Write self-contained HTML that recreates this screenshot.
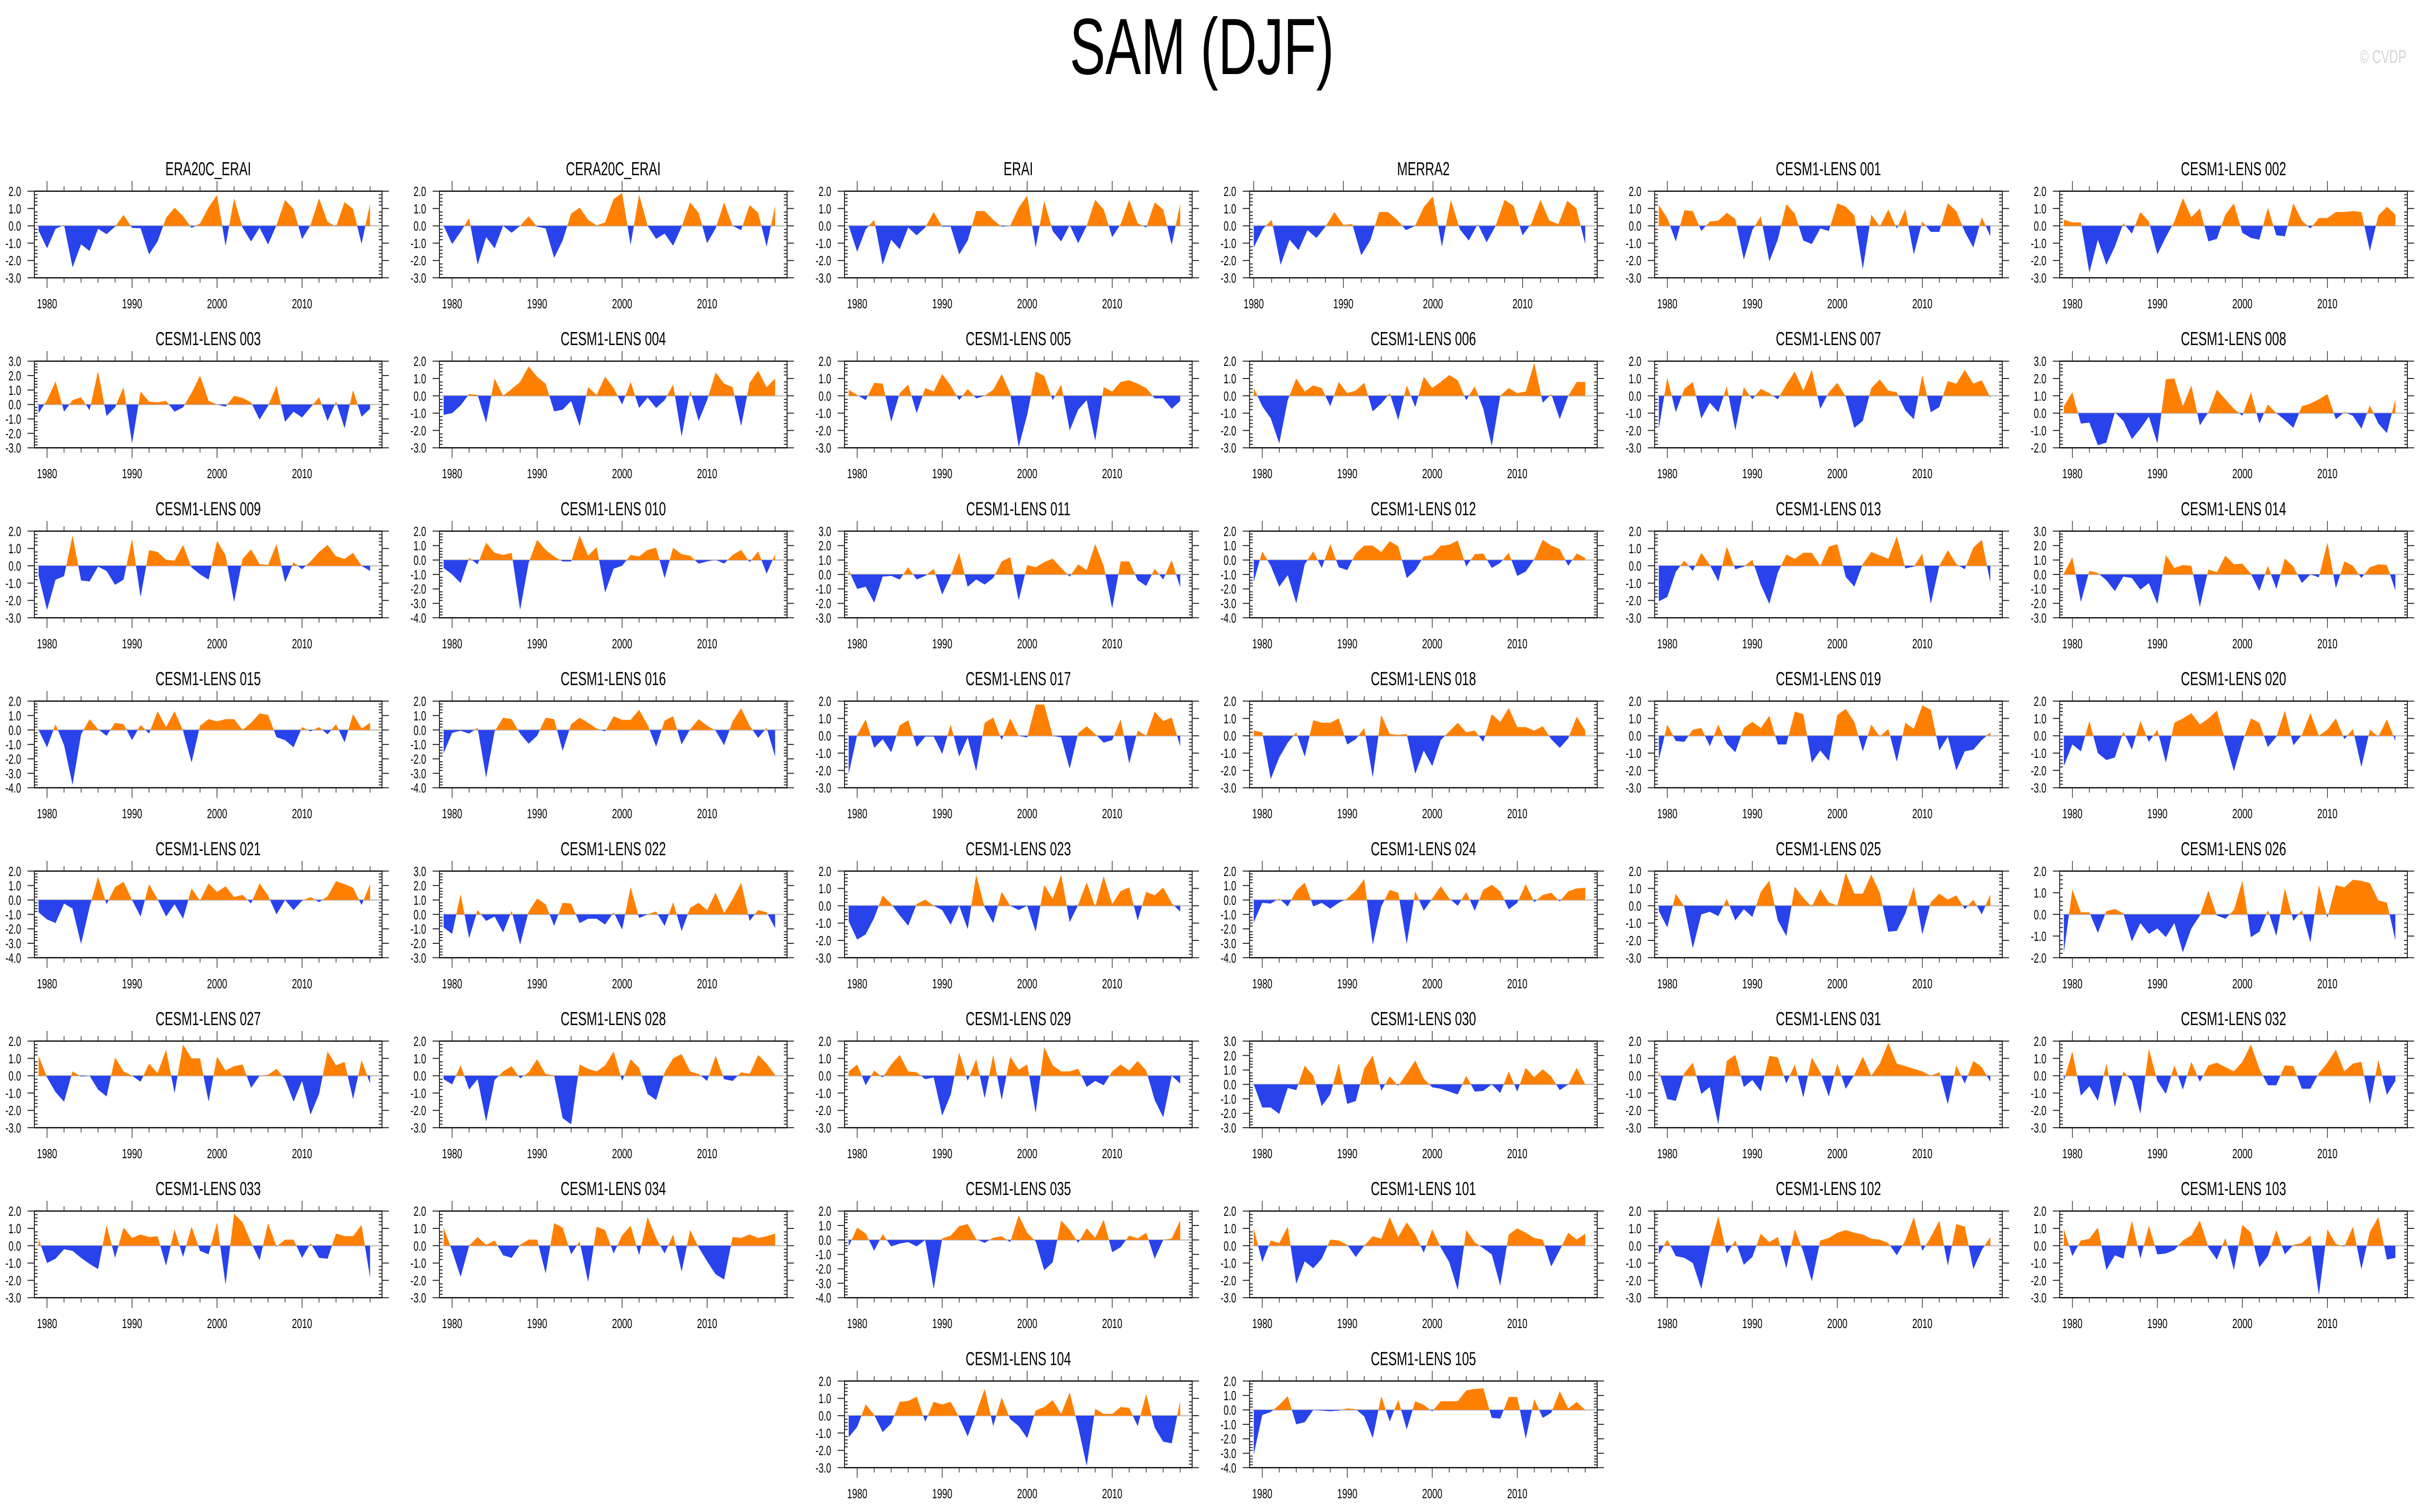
<!DOCTYPE html>
<html><head><meta charset="utf-8"><title>SAM (DJF)</title>
<meta name="viewport" content="width=7468, initial-scale=1">
<style>
html,body{margin:0;padding:0;background:#fff;overflow:hidden;width:100%;height:100%;}
svg{display:block;width:100vw;height:100vh;font-family:"Liberation Sans",Arial,sans-serif;}
</style></head>
<body>
<svg id="chart" xmlns="http://www.w3.org/2000/svg" viewBox="0 0 7468 3124" preserveAspectRatio="none">
<rect x="0" y="0" width="7468" height="3124" fill="#ffffff"/>
<text x="3709" y="153" font-size="165" text-anchor="middle" fill="#000">SAM (DJF)</text>
<text x="7426" y="130" font-size="38" text-anchor="end" fill="#d4d4d4">© CVDP</text>
</svg>
<script>
const titles = ["ERA20C_ERAI","CERA20C_ERAI","ERAI","MERRA2","CESM1-LENS 001","CESM1-LENS 002",
"CESM1-LENS 003","CESM1-LENS 004","CESM1-LENS 005","CESM1-LENS 006","CESM1-LENS 007","CESM1-LENS 008",
"CESM1-LENS 009","CESM1-LENS 010","CESM1-LENS 011","CESM1-LENS 012","CESM1-LENS 013","CESM1-LENS 014",
"CESM1-LENS 015","CESM1-LENS 016","CESM1-LENS 017","CESM1-LENS 018","CESM1-LENS 019","CESM1-LENS 020",
"CESM1-LENS 021","CESM1-LENS 022","CESM1-LENS 023","CESM1-LENS 024","CESM1-LENS 025","CESM1-LENS 026",
"CESM1-LENS 027","CESM1-LENS 028","CESM1-LENS 029","CESM1-LENS 030","CESM1-LENS 031","CESM1-LENS 032",
"CESM1-LENS 033","CESM1-LENS 034","CESM1-LENS 035","CESM1-LENS 101","CESM1-LENS 102","CESM1-LENS 103",
"CESM1-LENS 104","CESM1-LENS 105"];
const yMins = [-3,-3,-3,-3,-3,-3, -3,-3,-3,-3,-3,-2, -3,-4,-3,-4,-3,-3, -4,-4,-3,-3,-3,-3, -4,-3,-3,-4,-3,-2, -3,-3,-3,-3,-3,-3, -3,-3,-4,-3,-3,-3, -3,-4];
const yMaxs = [2,2,2,2,2,2, 3,2,2,2,2,3, 2,2,3,2,2,3, 2,2,2,2,2,2, 2,3,2,2,2,2, 2,2,2,3,2,2, 2,2,2,2,2,2, 2,2];
const startYears = [1979,1979,1979,1980,1979,1979, 1979,1979,1979,1979,1979,1979, 1979,1979,1979,1979,1979,1979, 1979,1979,1979,1979,1979,1979, 1979,1979,1979,1979,1979,1979, 1979,1979,1979,1979,1979,1979, 1979,1979,1979,1979,1979,1979, 1979,1979];
const xTickLabels = [1980,1990,2000,2010];

const v_era20c = [-0.28,-1.3,-0.17,0.05,-2.4,-1.07,-1.45,-0.17,-0.48,-0.05,0.63,-0.12,-0.14,-1.65,-0.9,0.46,1.05,0.56,-0.12,0.14,1.07,1.78,-1.16,1.58,-0.11,-0.9,-0.11,-1.08,0.05,1.49,0.97,-0.77,0.05,1.58,0.23,-0.05,1.37,0.97,-1.04,1.28];
const v_cera20c = [0,-1.05,-0.35,0.45,-2.25,-0.65,-1.3,0,-0.4,0,0.55,-0.05,-0.15,-1.85,-0.85,0.7,1.05,0.35,0.02,0.2,1.55,1.9,-1.1,1.8,0,-0.75,-0.45,-1.15,-0.05,1.35,0.75,-1.0,-0.15,1.35,0,-0.25,1.2,0.75,-1.2,1.15];
const v_erai = [0,-1.5,-0.2,0.35,-2.25,-0.8,-1.35,-0.1,-0.55,-0.1,0.8,-0.05,-0.05,-1.65,-0.85,0.85,0.85,0.35,-0.05,0,1.05,1.75,-1.25,1.45,-0.3,-0.9,0.05,-1.0,0,1.5,0.95,-0.65,0.1,1.5,0.15,-0.1,1.35,0.95,-1.1,1.25];
const v_merra2 = [-1.25,-0.2,0.35,-2.25,-0.8,-1.4,-0.25,-0.7,-0.05,0.8,0.05,0.1,-1.7,-0.85,0.8,0.8,0.35,-0.25,0,1.1,1.7,-1.2,1.5,-0.2,-0.85,0.1,-0.95,0,1.5,1.15,-0.55,0.15,1.5,0.3,0.1,1.45,1.0,-1.05];
const v_001 = [1.2,0.45,-0.9,0.9,0.85,-0.3,0.25,0.3,0.75,0.4,-1.95,-0.25,0.55,-2.05,-0.8,1.25,0.7,-0.85,-1.05,-0.15,-0.3,1.3,1.1,0.6,-2.5,0.65,-0.05,0.95,-0.15,0.95,-1.65,0.25,-0.35,-0.35,1.3,0.85,-0.35,-1.25,0.5,-0.6];
const v_002 = [0.35,0.2,0.2,-2.7,-0.8,-2.25,-1.2,0.15,-0.45,0.8,0.25,-1.65,-0.65,0.25,1.6,0.5,1.0,-0.9,-0.75,0.65,1.3,-0.4,-0.7,-0.8,1.05,-0.55,-0.6,1.3,0.3,-0.15,0.45,0.45,0.8,0.8,0.85,0.8,-1.45,0.6,1.1,0.65];
const v_003 = [-0.6,0.3,1.6,-0.5,0.3,0.5,-0.4,2.3,-0.8,-0.2,1.2,-2.7,0.9,0.2,0.15,0.25,-0.5,-0.2,0.8,2.0,0.25,0,-0.15,0.6,0.45,0.15,-1.05,-0.1,1.3,-1.2,-0.5,-0.9,-0.2,0.5,-1.15,0.2,-1.65,1.0,-0.85,-0.3];
const v_004 = [-1.1,-1.0,-0.55,0.1,0.05,-1.55,1.0,0,0.4,0.8,1.7,1.1,0.7,-0.9,-0.8,-0.3,-1.75,0.5,0.05,1.1,0.45,-0.5,0.8,-0.7,-0.1,-0.7,-0.25,0.65,-2.35,0.3,-1.45,-0.25,1.35,0.7,0.5,-1.75,0.75,1.45,0.5,1.0];
const v_005 = [0.35,0.05,-0.25,0.75,0.7,-1.5,0.15,0.65,-1.0,0.45,0.25,1.25,0.6,-0.25,0.4,-0.15,0,0.35,1.25,0.15,-2.95,-1.1,1.4,1.15,-0.25,0.65,-2.0,-0.8,-0.25,-2.6,0.5,0.25,0.8,0.9,0.7,0.45,-0.15,-0.15,-0.75,-0.3];
const v_006 = [0.45,-0.6,-1.3,-2.75,-0.25,1.0,0.25,0.6,0.45,-0.6,0.8,0.15,0.3,0.75,-0.9,-0.45,0.15,-1.4,0.6,-0.65,1.1,0.45,0.8,1.2,0.9,-0.25,0.55,-0.75,-2.9,0,0.45,0.15,0.25,1.9,-0.4,0.1,-1.35,0,0.8,0.8];
const v_007 = [-1.9,1.05,-0.95,0.4,0.8,-1.3,-0.4,-0.95,0.55,-2.0,0.5,-0.2,0.4,0.15,-0.2,0.65,1.4,0.3,1.5,-0.75,0.2,0.75,-0.05,-1.85,-1.45,0.45,0.95,0.3,0.2,-0.85,-1.35,1.2,-0.95,-0.65,0.85,0.7,1.5,0.7,0.9,-0.1];
const v_008 = [0.4,1.2,-0.6,-0.55,-1.85,-1.7,0.05,-0.45,-1.5,-0.9,-0.2,-1.75,1.95,2.0,0.4,1.6,-0.7,0.05,1.35,0.8,0.25,-0.15,1.2,-0.6,0.5,0,-0.4,-0.85,0.4,0.55,0.8,1.1,-0.35,0.05,-0.15,-0.9,0.45,-0.6,-1.15,0.8];
const v_009 = [-0.55,-2.55,-0.8,-0.6,1.75,-0.85,-0.9,-0.05,-0.3,-1.1,-0.8,1.55,-1.8,0.9,0.8,0.35,0.3,1.2,-0.1,-0.5,-0.8,1.45,0.6,-2.1,0.4,0.95,0.1,0.05,1.25,-0.95,0.2,-0.2,0.25,0.8,1.2,0.55,0.4,0.75,0,-0.3];
const v_010 = [-0.55,-1.0,-1.6,0.15,-0.3,1.2,0.5,0.35,0.5,-3.45,-0.2,1.4,0.7,0.25,-0.1,-0.1,1.7,0.3,0.9,-2.25,-0.6,-0.4,0.35,0.25,0.7,0.85,-1.25,0.85,0.4,0.3,-0.25,-0.1,0.02,-0.25,0.35,0.7,-0.15,0.6,-0.95,0.4];
const v_011 = [0.3,-1.0,-0.85,-1.95,-0.15,-0.1,-0.35,0.5,-0.35,-0.1,0.4,-1.4,-0.1,1.5,-0.85,-0.35,-0.7,-0.25,0.9,1.2,-1.8,0.65,0.5,0.85,1.1,0.45,-0.15,0.7,0.3,2.1,0.6,-2.35,0.9,0.9,-0.4,-0.8,0.4,-0.35,1.0,-0.9];
const v_012 = [-1.5,0.6,-0.4,-1.85,-1.05,-3.0,-0.3,0.6,-0.55,1.1,-0.5,-0.7,0.45,1.0,1.0,0.55,1.3,0.95,-1.25,-0.7,0.25,0.35,1.0,1.05,1.35,-0.45,0.4,0.45,-0.55,-0.2,0.5,-1.1,-0.8,0.05,1.4,1.0,0.75,-0.4,0.45,0.15];
const v_013 = [-2.05,-1.8,-0.35,0.3,-0.3,0.75,0.05,-0.9,1.1,-0.2,-0.05,0.35,-1.1,-2.2,-0.4,0.65,0.4,0.75,0.75,0,1.1,1.25,-0.65,-1.2,0.1,0.8,0.6,0.4,1.7,-0.15,-0.05,0.7,-2.2,0,0.9,0.1,-0.2,1.05,1.5,-0.95];
const v_014 = [0.05,1.2,-1.9,0.25,0.1,-0.4,-1.15,-0.15,-0.25,-1.05,-0.6,-2.05,1.35,0.45,0.65,0.6,-2.25,0.35,0.15,1.3,0.7,0.75,0.05,-1.15,0.6,-1.0,1.1,0.55,-0.6,0,-0.2,2.2,-0.95,0.9,0.6,-0.25,0.5,0.7,0.65,-1.1];
const v_015 = [0,-1.2,0.4,-1.05,-3.8,-0.3,0.75,0.05,-0.4,0.5,0.4,-0.7,0.35,-0.25,1.3,0.2,1.3,-0.05,-2.25,0.3,0.75,0.6,0.75,0.75,0,0.5,1.15,1.05,-0.5,-0.7,-1.2,0.2,-0.1,0.2,-0.3,0.4,-0.85,1.1,0.1,0.5];
const v_016 = [-1.6,-0.2,-0.05,-0.25,0.15,-3.3,-0.1,0.85,0.75,-0.25,-0.95,-0.4,0.85,0.75,-1.45,0.4,0.85,0.5,0.1,-0.1,0.95,0.7,0.7,1.4,0.35,-1.15,0.65,0.95,-1.0,0.05,0.75,0.3,-0.05,-1.05,0.6,1.5,0.3,-0.55,0.15,-1.85];
const v_017 = [-2.2,0.05,0.95,-0.7,-0.2,-0.95,0.6,0.9,-0.65,-0.05,-0.05,-1.05,0.65,-1.2,-0.1,-2.05,0.75,1.05,-0.25,1.0,0,-0.1,1.8,1.8,0,-0.1,-1.9,0.15,0.55,0.1,-0.4,-0.25,0.95,-1.6,0.3,0,1.4,0.85,1.05,-0.6];
const v_018 = [0.3,0.2,-2.5,-1.25,-0.4,0.2,-1.2,0.9,0.75,0.75,1.0,-0.5,-0.2,0.45,-2.4,1.2,0.1,0.05,0.1,-2.2,-0.85,-1.75,-0.25,0.25,0.75,0.2,0.3,-0.35,1.25,0.8,1.6,0.5,0.5,0.3,0.55,-0.2,-0.7,-0.15,1.1,0.3];
const v_019 = [-1.4,0.65,-0.3,-0.35,0.35,0.45,-0.6,0.65,-0.45,-0.95,0.45,0.8,0.45,1.15,-0.5,-0.5,1.4,1.25,-1.55,-0.85,-1.45,1.2,1.55,0.8,-0.9,0.65,-0.05,0.4,-1.5,0.75,0.4,1.75,1.5,-0.85,-0.05,-2.0,-0.9,-0.8,-0.25,0.2];
const v_020 = [-1.75,-0.5,-0.9,0.85,-1.0,-1.4,-1.25,0.25,-0.8,0.85,-0.35,0.35,-1.55,0.75,1.0,1.3,0.65,1.0,1.45,-0.3,-2.05,-0.35,1.0,0.75,-0.65,-0.05,1.45,-0.55,0.05,1.3,0,0.35,1.0,-0.2,0.4,-1.8,0.35,-0.05,0.95,-0.3];
const v_021 = [-0.85,-1.35,-1.6,-0.25,-0.6,-3.05,-0.5,1.6,-0.3,0.9,1.25,0,-1.15,1.1,0.05,-1.15,-0.3,-1.3,0.8,-0.05,1.15,0.55,0.95,0.2,0.35,-0.25,1.15,0.3,-1.0,0,-0.7,-0.05,0.2,-0.15,0.25,1.3,1.1,0.85,-0.35,1.1];
const v_022 = [-0.9,-1.35,1.4,-1.65,0.3,-0.45,-0.15,-1.25,0.25,-2.1,0.2,1.1,0.7,-0.8,0.8,0.75,-0.6,-0.3,-0.3,-0.7,0.15,-1.05,1.9,-0.25,0,0.2,-0.8,0.85,-1.15,0.45,0.8,0.3,1.5,0.1,1.05,2.2,-0.45,0.3,0.15,-0.95];
const v_023 = [-0.9,-1.95,-1.65,-0.7,0.6,0.1,-0.55,-1.15,0.1,0.35,0,-0.25,-1.1,0,-1.35,1.8,-0.1,-1.0,0.8,0,-0.25,0,-1.5,1.2,0.4,1.8,-0.95,0.05,1.35,-0.05,1.7,0.1,0.85,1.05,-0.85,0.8,0.6,1.05,0.15,-0.35];
const v_024 = [-1.55,-0.2,-0.25,0.1,-0.45,0.65,1.2,-0.45,-0.2,-0.6,-0.2,0.1,0.65,1.45,-3.1,-0.45,0.7,0.5,-3.05,0.6,-0.75,0.1,0.95,0.1,-0.4,0.55,-0.75,0.7,1.05,0.6,-0.65,-0.2,1.1,-0.15,0.35,0.5,-0.1,0.6,0.8,0.85];
const v_025 = [-0.3,-1.25,0.7,-0.05,-2.45,-0.5,-0.35,-0.6,0.4,-0.85,-0.2,-0.65,0.8,1.45,-0.85,-1.75,1.1,0.45,-0.05,0.95,0.2,0,1.9,0.7,0.7,1.8,0.75,-1.5,-1.45,-0.45,1.1,-1.65,0.2,0.7,0.35,0.6,-0.2,0.35,-0.5,0.65];
const v_026 = [-1.75,1.15,0.1,0.1,-0.85,0.15,0.25,0.05,-1.25,-0.4,-0.9,-0.65,-1.05,-0.4,-1.75,-0.65,-0.05,1.1,-0.05,-0.2,0.2,1.55,-1.05,-0.8,0.2,-1.0,1.2,-0.3,0.2,-1.3,1.35,-0.15,1.35,1.25,1.6,1.55,1.45,0.65,0.55,-1.2];
const v_027 = [1.15,-0.1,-0.95,-1.5,0.25,-0.05,0,-0.8,-1.2,1.05,0.25,0,-0.35,0.7,0.15,1.5,-1.0,1.8,1.0,1.0,-1.5,1.1,0.3,0.55,0.65,-0.7,0,0.05,0.4,-0.2,-1.5,-0.3,-2.25,-1.05,1.4,0.6,0.8,-1.35,0.9,-0.45];
const v_028 = [-0.2,-0.5,0.6,-0.8,-0.2,-2.65,-0.25,0.25,0.55,-0.15,0.2,0.95,0.1,0.02,-2.45,-2.8,0.65,0.4,0.25,0.6,1.4,-0.3,0.95,0.45,-1.05,-1.4,0.2,1.0,1.25,0.25,0.1,-0.3,1.15,-0.2,-0.3,0.2,0.1,1.2,0.7,0.05];
const v_029 = [0.25,0.65,-0.55,0.3,-0.1,0.65,1.2,0.25,0.2,-0.2,-0.1,-2.3,-1.1,1.35,-0.3,0.95,-1.3,1.2,-1.4,1.1,0.35,0.65,-2.15,1.65,0.6,0.25,0.25,0.4,-0.65,-0.3,-0.55,0.25,0.65,0.3,0.85,0.3,-1.4,-2.4,0,-0.45];
const v_030 = [0,-1.6,-1.6,-2.05,-0.25,-0.4,1.3,0.6,-1.5,-0.7,1.45,-1.35,-1.15,1.1,2.0,-0.45,0.55,-0.1,0.75,1.65,0.4,-0.2,-0.3,-0.5,-0.7,0.6,-0.5,-0.45,0,-0.6,0.9,-0.5,1.15,0.5,1.05,0.55,-0.4,0,1.15,0];
const v_031 = [0.3,-1.35,-1.45,0.15,0.75,-1.05,-0.65,-2.8,0.85,1.2,-0.65,-0.25,-0.9,1.15,1.05,-0.45,0.65,-1.25,1.05,0.2,-1.2,0.7,-0.75,0.05,1.1,0,0.7,1.9,0.7,0.55,0.4,0.25,0,0.2,-1.65,0.6,-0.45,0.85,0.5,-0.35];
const v_032 = [-0.3,1.4,-1.15,-0.6,-1.45,0.7,-1.8,0.25,-0.3,-2.2,1.55,-0.3,-1.05,0.6,-0.8,0.8,-0.35,0.6,0.75,0.5,0.25,0.8,1.8,0.4,-0.55,-0.55,0.6,0.55,-0.75,-0.75,0.15,0.75,1.5,0.25,0.7,0.8,-1.65,0.9,-1.1,-0.3];
const v_033 = [0.4,-1.0,-0.75,-0.2,-0.3,-0.7,-1.05,-1.35,1.2,-0.7,1.05,0.45,0.65,0.5,0.55,-1.15,0.95,-0.65,1.1,-0.3,-0.5,1.35,-2.25,1.85,1.35,0.2,-0.85,1.3,-0.05,0.35,0.35,-0.7,0.15,-0.7,-0.75,0.7,0.55,0.55,1.2,-1.85];
const v_034 = [1.05,-0.3,-1.8,0,0.5,0.05,0.3,-0.55,-0.7,0.05,0.35,0.35,-1.6,1.3,1.05,-0.5,0.25,-2.1,1.1,0.9,-0.45,0.6,1.15,-0.55,1.65,0.45,-0.45,0.65,-1.5,0.9,-0.1,-0.9,-1.65,-1.95,0.5,0.45,0.65,0.45,0.55,0.7];
const v_035 = [-0.45,0.85,0.45,-0.75,0.4,-0.45,-0.25,-0.15,-0.45,0,-3.4,0.1,0.3,0.95,1.1,0.05,-0.2,0.15,0.25,-0.15,1.7,0.5,-0.1,-2.1,-1.55,1.35,0.7,-0.2,0.8,0.15,1.4,-0.85,-0.5,0.3,0.1,0.5,-1.3,0,0.1,1.35];
const v_101 = [1.0,-0.95,0.3,0.15,1.1,-2.2,-0.9,-1.3,-0.75,0.35,0.3,0.05,-0.65,0,0.55,0.4,1.65,0.5,1.35,0.65,-0.4,0.95,-0.1,-0.95,-2.55,0.9,0.2,-0.15,-0.5,-2.3,0.65,1.0,0.75,0.45,0.35,-1.2,-0.25,0.75,0.35,0.7];
const v_102 = [-0.5,0.35,-0.6,-0.7,-1.0,-2.5,-0.1,1.7,-0.45,0.3,-1.1,-0.65,0.7,0.2,0.5,-1.3,0.95,-0.35,-2.05,0.3,0.45,0.75,0.9,0.75,0.65,0.4,0.35,0.15,-0.55,0.3,1.65,-0.3,0.5,1.45,-1.15,1.25,1.1,-1.35,-0.25,0.5];
const v_103 = [0.95,-0.6,0.3,0.4,1.05,-1.4,-0.55,-0.75,1.45,-0.75,1.15,-0.5,-0.45,-0.25,0.3,0.6,1.45,-0.1,-0.8,0.45,-1.4,1.2,0.75,-1.25,-0.6,0.9,-0.5,0.05,0.15,0.6,-2.85,0.95,0.1,-0.05,1.1,-1.35,0.8,1.65,-0.8,-0.7];
const v_104 = [-1.25,-0.65,0.65,0.05,-0.95,-0.45,0.8,0.85,1.1,-0.35,0.8,0.65,0.8,-0.1,-1.2,0.15,1.55,-0.6,1.05,-0.2,-0.6,-1.3,0.3,0.5,0.9,0.1,1.35,-0.65,-2.9,0.4,0.1,0.1,0.5,0.45,-0.6,1.25,-0.7,-1.5,-1.6,0.85];
const v_105 = [-3.1,-0.35,-0.15,0.35,0.95,-1.0,-0.85,0,-0.05,-0.1,-0.05,0.1,0.05,-0.45,-1.95,0.95,-0.8,0.7,-1.35,0.6,0.35,-0.1,0.6,0.6,0.6,1.35,1.45,1.5,-0.55,-0.6,0.9,0.9,-2.0,0.75,-0.55,-0.2,1.3,0.1,0.55,0];

const seriesList = [v_era20c,v_cera20c,v_erai,v_merra2,v_001,v_002,v_003,v_004,v_005,v_006,v_007,v_008,v_009,v_010,v_011,v_012,v_013,v_014,v_015,v_016,v_017,v_018,v_019,v_020,v_021,v_022,v_023,v_024,v_025,v_026,v_027,v_028,v_029,v_030,v_031,v_032,v_033,v_034,v_035,v_101,v_102,v_103,v_104,v_105];

const NS = "http://www.w3.org/2000/svg";
const svg = document.getElementById('chart');
const defs = document.createElementNS(NS, 'defs');
svg.appendChild(defs);
function mk(tag, attrs, parent) {
  const e = document.createElementNS(NS, tag);
  for (const k in attrs) e.setAttribute(k, attrs[k]);
  parent.appendChild(e);
  return e;
}
const PW = 1073, PH = 179, PAD_L = 13, PAD_R = 37;
const ORANGE = "#ff8000", BLUE = "#2842ec";

for (let i = 0; i < titles.length; i++) {
  let row, col;
  if (i < 42) { row = Math.floor(i / 6); col = i % 6; } else { row = 7; col = i - 40; }
  const L = 106 + 1250 * col, T = 395 + 351.2 * row, R = L + PW, B = T + PH;
  const vals = seriesList[i];
  const y0 = startYears[i], y1 = y0 + vals.length - 1;
  const ymin = yMins[i], ymax = yMaxs[i];
  const xs = yr => L + PAD_L + (yr - y0) / (y1 - y0) * (PW - PAD_L - PAD_R);
  const ys = v => T + (ymax - v) / (ymax - ymin) * PH;
  const zY = ys(0);
  const slug = titles[i].toLowerCase().replace(/[^a-z0-9]+/g, '-');

  const g = mk('g', {}, svg);
  
  

  const t = mk('text', {x: (L + R) / 2, y: T - 33, 'font-size': 39, 'text-anchor': 'middle', fill: '#000'}, g);
  t.textContent = titles[i];
  
  

  const zl = mk('line', {x1: L, x2: R, y1: zY, y2: zY, stroke: '#c8c8c8', 'stroke-width': 3}, g);
  
  

  let d = 'M' + xs(y0) + ',' + zY;
  vals.forEach((v, k) => { d += ' L' + xs(y0 + k).toFixed(2) + ',' + ys(v).toFixed(2); });
  d += ' L' + xs(y1) + ',' + zY + ' Z';

  const cpA = mk('clipPath', {id: 'ca' + i}, defs);
  mk('rect', {x: L, y: T - 50, width: PW, height: zY - T + 50}, cpA);
  const cpB = mk('clipPath', {id: 'cb' + i}, defs);
  mk('rect', {x: L, y: zY, width: PW, height: B - zY + 50}, cpB);

  const pa = mk('path', {d: d, fill: ORANGE, 'clip-path': 'url(#ca' + i + ')'}, g);
  
  
  const pb = mk('path', {d: d, fill: BLUE, 'clip-path': 'url(#cb' + i + ')'}, g);
  
  

  const fr = mk('rect', {x: L, y: T, width: PW, height: PH, fill: 'none', stroke: '#000', 'stroke-width': 2.5}, g);
  
  

  let tk = '';
  for (let v = ymin; v <= ymax + 1e-6; v += 0.2) {
    const yy = ys(v).toFixed(1);
    const major = Math.abs(v - Math.round(v)) < 1e-6;
    if (major) {
      tk += 'M' + (L - 21) + ',' + yy + 'H' + L + 'M' + R + ',' + yy + 'H' + (R + 21);
    } else {
      tk += 'M' + L + ',' + yy + 'H' + (L + 10) + 'M' + (R - 10) + ',' + yy + 'H' + R;
    }
  }
  for (let yr = 1978; yr <= 2020; yr += 2) {
    const xx = xs(yr);
    if (xx < L - 0.5 || xx > R + 0.5) continue;
    const len = (yr % 10 === 0) ? 21 : 10;
    tk += 'M' + xx.toFixed(1) + ',' + T + 'V' + (T - len) + 'M' + xx.toFixed(1) + ',' + B + 'V' + (B + len);
  }
  const tp = mk('path', {d: tk, stroke: '#222', 'stroke-width': 2, fill: 'none'}, g);
  
  

  for (let v = ymin; v <= ymax + 1e-6; v += 1) {
    const yl = mk('text', {x: L - 41, y: ys(v) + 10, 'font-size': 28, 'text-anchor': 'end', fill: '#000'}, g);
    yl.textContent = v.toFixed(1);
    
    
  }
  xTickLabels.forEach(yr => {
    const xl = mk('text', {x: xs(yr), y: B + 63, 'font-size': 28, 'text-anchor': 'middle', fill: '#000'}, g);
    xl.textContent = yr;
    
    
  });
}
</script>
</body></html>
